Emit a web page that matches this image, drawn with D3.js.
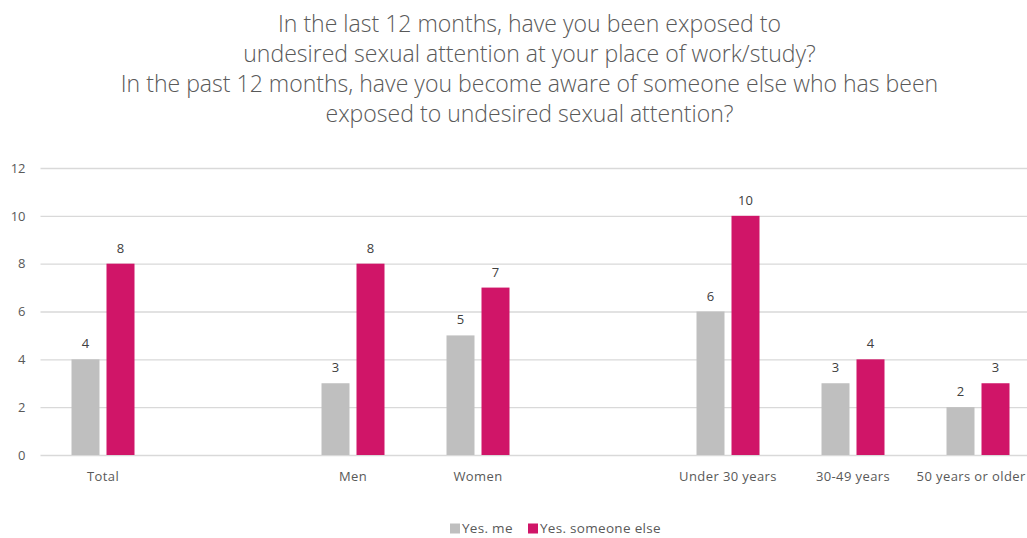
<!DOCTYPE html>
<html>
<head>
<meta charset="utf-8">
<script src="https://cdn.jsdelivr.net/npm/d3@7"></script>
<style>
  html, body { margin: 0; padding: 0; background: #fff; overflow: hidden; }
  svg { display: block; font-family: "Open Sans", Lato, sans-serif; }
</style>
</head>
<body>
<svg id="chart" width="1027" height="538"></svg>
<script>
// Survey answers by group (blank entries are spacer slots between groups)
const categories = ["Total", "", "Men", "Women", "", "Under 30 years", "30-49 years", "50 years or older"];
const yesMe      = [4, null, 3, 5, null, 6, 3, 2];
const yesElse    = [8, null, 8, 7, null, 10, 4, 3];
const seriesNames = ["Yes. me", "Yes. someone else"];
const seriesColors = ["#BFBFBF", "#D01568"];
const yTicks = [0, 2, 4, 6, 8, 10, 12];
const titleLines = [
  "In the last 12 months, have you been exposed to",
  "undesired sexual attention at your place of work/study?",
  "In the past 12 months, have you become aware of someone else who has been",
  "exposed to undesired sexual attention?"
];

const svg = d3.select("#chart");
const W = 1027;
const textColor = "#595959";

// Title, sized so the widest line spans about 818px
const title = svg.append("g");
const tl = title.selectAll("text").data(titleLines).join("text")
  .attr("x", W / 2 + 16)
  .attr("y", (d, i) => 32 + i * 30)
  .attr("text-anchor", "middle")
  .attr("fill", textColor)
  .style("font-family", "'Open Sans', sans-serif")
  .style("font-weight", 300)
  .style("font-size", "20px")
  .text(d => d);
const widest = d3.max(tl.nodes(), n => n.getComputedTextLength());
const titleSize = 20 * 818 / widest;
tl.style("font-size", titleSize + "px");

// Scales
const plot = { left: 40.5, right: 1040.5, top: 168, bottom: 455 };
const x0 = d3.scaleBand()
  .domain(d3.range(categories.length))
  .range([plot.left, plot.right])
  .paddingInner(0).paddingOuter(0);
const x1 = d3.scaleBand()
  .domain([0, 1])
  .range([-31.5, 31.5])
  .paddingInner(0.2);
const y = d3.scaleLinear().domain([0, 12]).range([plot.bottom, plot.top]);

// Gridlines and y labels
const yAxis = d3.axisLeft(y).tickValues(yTicks).tickSize(-(plot.right - plot.left)).tickPadding(15);
const yg = svg.append("g").attr("transform", `translate(${plot.left},0)`).call(yAxis);
yg.select(".domain").remove();
yg.selectAll(".tick line").attr("stroke", "#D9D9D9").attr("stroke-width", 1.3);
yg.selectAll(".tick text").attr("fill", textColor).style("font-size", "13px").style("font-family", "'Open Sans', sans-serif");

// Category labels
const xAxis = d3.axisBottom(x0).tickFormat(i => categories[i]).tickSize(0).tickPadding(17);
const xg = svg.append("g").attr("transform", `translate(0,${plot.bottom})`).call(xAxis);
xg.select(".domain").remove();
xg.selectAll(".tick text").attr("fill", textColor)
  .style("font-size", "13px").style("letter-spacing", "0.4px")
  .style("font-family", "'Open Sans', sans-serif");

// Keep the last label inside the visible area
xg.selectAll(".tick").each(function () {
  const t = d3.select(this);
  const txt = t.select("text");
  const box = this.getBBox();
  const m = this.transform.baseVal.consolidate().matrix;
  const right = m.e + box.x + box.width;
  if (right > W - 1) txt.attr("dx", (W - 1 - right) + "px");
});

// Bars
const rows = categories.map((c, i) => ({ i, values: [yesMe[i], yesElse[i]] }));
const groups = svg.append("g").selectAll("g").data(rows.filter(r => r.values[0] != null)).join("g")
  .attr("transform", d => `translate(${x0(d.i) + x0.bandwidth() / 2},0)`);

groups.selectAll("rect").data(d => d.values.map((v, s) => ({ v, s }))).join("rect")
  .attr("x", d => x1(d.s))
  .attr("width", x1.bandwidth())
  .attr("y", d => y(d.v))
  .attr("height", d => y(0) - y(d.v))
  .attr("fill", d => seriesColors[d.s]);

groups.selectAll("text.val").data(d => d.values.map((v, s) => ({ v, s }))).join("text")
  .attr("class", "val")
  .attr("x", d => x1(d.s) + x1.bandwidth() / 2)
  .attr("y", d => y(d.v) - 11)
  .attr("text-anchor", "middle")
  .attr("fill", "#404040")
  .style("font-size", "13px")
  .text(d => d.v);

// Legend
const legend = svg.append("g").attr("transform", "translate(450,533)");
const items = [{ x: 0 }, { x: 78 }];
items.forEach((it, s) => {
  legend.append("rect").attr("x", it.x).attr("y", -9.5).attr("width", 10).attr("height", 10).attr("fill", seriesColors[s]);
  legend.append("text").attr("x", it.x + 12).attr("y", 0).attr("fill", textColor)
    .style("font-size", "13.5px").style("letter-spacing", "0.3px").text(seriesNames[s]);
});
</script>
</body>
</html>
